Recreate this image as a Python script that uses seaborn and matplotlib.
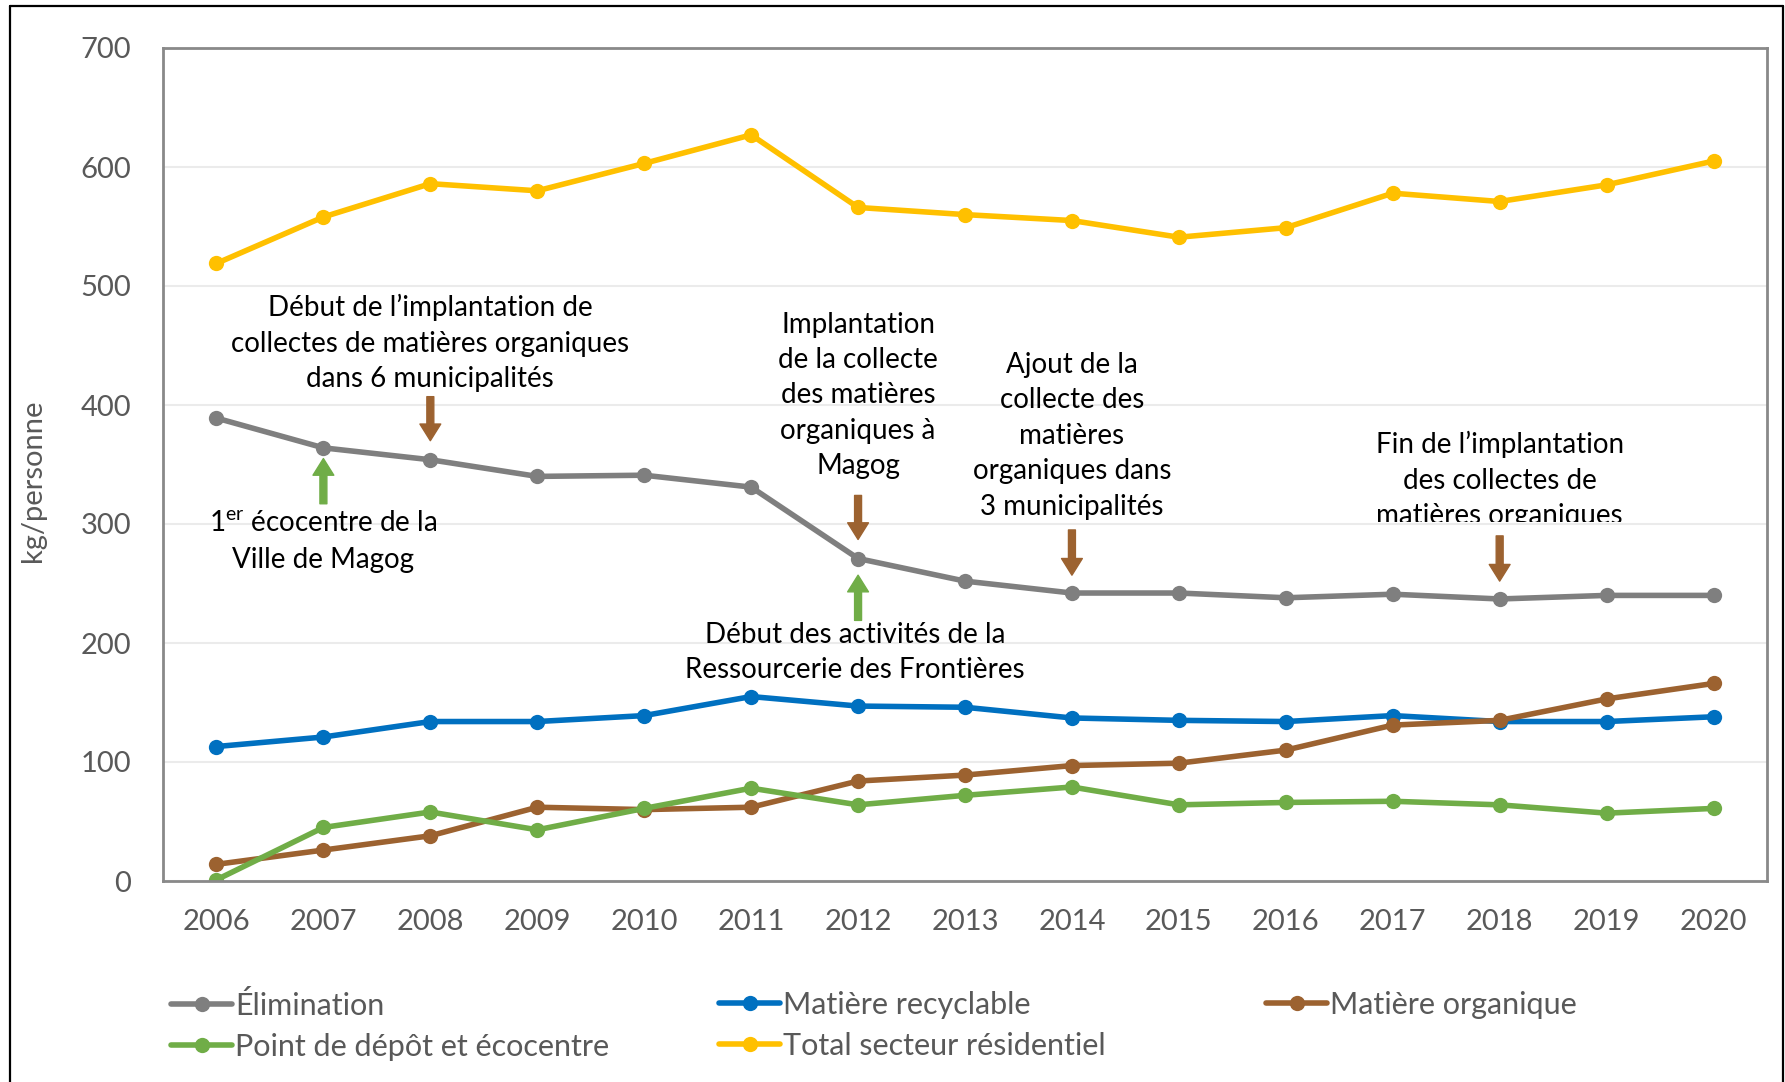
import numpy as np
import pandas as pd
import matplotlib
matplotlib.use("Agg")
import matplotlib.pyplot as plt
import seaborn as sns
from matplotlib.lines import Line2D
from matplotlib.patches import Rectangle

# données (kg/personne)
annees = list(range(2006, 2021))
elimination = [389, 364, 354, 340, 341, 331, 271, 252, 242, 242, 238, 241, 237, 240, 240]
recyclable = [113, 121, 134, 134, 139, 155, 147, 146, 137, 135, 134, 139, 134, 134, 138]
organique = [14, 26, 38, 62, 60, 62, 84, 89, 97, 99, 110, 131, 135, 153, 166]
ecocentre = [1, 45, 58, 43, 61, 78, 64, 72, 79, 64, 66, 67, 64, 57, 61]
total = [519, 558, 586, 580, 603, 627, 566, 560, 555, 541, 549, 578, 571, 585, 605]

noms = ["Élimination", "Matière recyclable", "Matière organique",
        "Point de dépôt et écocentre", "Total secteur résidentiel"]
couleurs = ["#7F7F7F", "#0070C0", "#9C6230", "#70AD47", "#FFC000"]
yticks = [0, 100, 200, 300, 400, 500, 600, 700]

# annotations : (texte, année, y du texte)
notes = [
    ("Début de l\u2019implantation de\ncollectes de matières organiques\ndans 6 municipalités", 2008, 452),
    ("1$^{\\rm er}$ écocentre de la\nVille de Magog", 2007, 285),
    ("Implantation\nde la collecte\ndes matières\norganiques à\nMagog", 2012, 408),
    ("Début des activités de la\nRessourcerie des Frontières", 2011.97, 192),
    ("Ajout de la\ncollecte des\nmatières\norganiques dans\n3 municipalités", 2014, 374),
    ("Fin de l\u2019implantation\ndes collectes de\nmatières organiques", 2018, 337),
]
# flèches : (année, y queue, y pointe, couleur)
fleches = [
    (2008, 407, 370, "#9C6230"),
    (2007, 317, 355, "#70AD47"),
    (2012, 324, 287, "#9C6230"),
    (2012, 219, 257, "#70AD47"),
    (2014, 295, 257, "#9C6230"),
    (2018, 290, 252, "#9C6230"),
]

df = pd.DataFrame({
    "annee": annees * 5,
    "valeur": elimination + recyclable + organique + ecocentre + total,
    "serie": sum([[n] * len(annees) for n in noms], []),
})

sns.set_style("white")
plt.rcParams["font.family"] = ["Lato", "DejaVu Sans"]
plt.rcParams["mathtext.fontset"] = "custom"
plt.rcParams["mathtext.rm"] = "Lato"

fig = plt.figure(figsize=(17.85, 10.82), dpi=100)
ax = fig.add_axes([163 / 1785, 1 - 881 / 1082, (1767 - 163) / 1785, (881 - 48) / 1082])

sns.lineplot(data=df, x="annee", y="valeur", hue="serie", hue_order=noms,
             palette=dict(zip(noms, couleurs)), marker="o", markersize=11,
             markeredgewidth=0, linewidth=4, ax=ax, legend=False)

ax.set_xlim(2005.5, 2020.5)
ax.set_ylim(0, 700)
ax.set_xticks(annees)
ax.set_xticklabels([str(a) for a in annees])
ax.set_xticks(np.arange(2005.5, 2021, 1), minor=True)
ax.set_yticks(yticks)
ax.tick_params(axis="x", which="major", length=0, pad=20, labelsize=21, labelcolor="#595959")
ax.tick_params(axis="x", which="minor", length=6, width=1.5, color="#898989", direction="out")
ax.tick_params(axis="y", length=0, pad=23, labelsize=21, labelcolor="#595959")
ax.yaxis.grid(True, color="#EBEBEB", linewidth=1.5)
ax.set_axisbelow(True)
for s in ax.spines.values():
    s.set_color("#898989")
    s.set_linewidth(2)
ax.set_xlabel("")
ax.set_ylabel("kg/personne", fontsize=21, color="#595959")
ax.yaxis.set_label_coords(-0.073, 0.481)

for txt, x, y in notes:
    t = ax.text(x, y, txt, ha="center", va="center", fontsize=20, color="black",
                linespacing=1.45)
    if "Fin de" in txt:
        # le bas de la dernière ligne est coupé dans l'original
        clip = Rectangle((2016, 302), 4, 200, transform=ax.transData)
        t.set_clip_on(True)
        t.set_clip_path(clip)

for x, y0, y1, c in fleches:
    ax.annotate("", xy=(x, y1), xytext=(x, y0),
                arrowprops=dict(arrowstyle="simple,head_length=0.6,head_width=0.75,tail_width=0.25",
                                color=c, shrinkA=0, shrinkB=0, mutation_scale=20))

# légende en trois colonnes
poignees = {n: Line2D([], [], color=c, linewidth=4, marker="o", markersize=11,
                      markeredgewidth=0) for n, c in zip(noms, couleurs)}
colonnes = [([noms[0], noms[3]], 171), ([noms[1], noms[4]], 719), ([noms[2]], 1266)]
for labels, xpix in colonnes:
    leg = fig.legend([poignees[l] for l in labels], labels, loc="upper left",
                     bbox_to_anchor=(xpix / 1785, 1 - 991 / 1082), frameon=False,
                     fontsize=22, handlelength=2.0, handletextpad=0.1,
                     labelspacing=0.42, borderpad=0, borderaxespad=0)
    for t in leg.get_texts():
        t.set_color("#595959")

# cadre du graphique
for xs, ys in [([10, 10], [0, 1076]), ([10, 1783], [1076, 1076]), ([1783, 1783], [0, 1076])]:
    fig.add_artist(Line2D([x / 1785 for x in xs], [y / 1082 for y in ys],
                          color="black", linewidth=1.6, transform=fig.transFigure))

fig.savefig("out.png", dpi=100, facecolor="white")
